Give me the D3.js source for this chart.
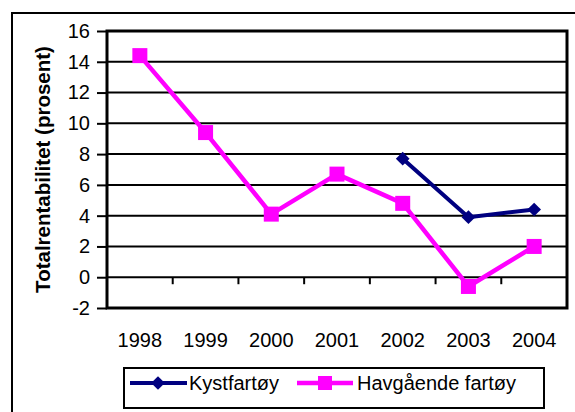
<!DOCTYPE html>
<html>
<head>
<meta charset="utf-8">
<script src="https://cdn.jsdelivr.net/npm/d3@7"></script>
<style>
  body { margin: 0; background: #fff; }
  svg { display: block; font-family: Arial, "Liberation Sans", sans-serif; }
</style>
</head>
<body>
<svg class="canvas" width="575" height="412"></svg>
<script>
// data
var years = ['1998', '1999', '2000', '2001', '2002', '2003', '2004'];
var kystValues = [null, null, null, null, 7.7, 3.9, 4.4];
var havValues = [14.4, 9.4, 4.1, 6.7, 4.8, -0.6, 2.0];
var yTicks = [-2, 0, 2, 4, 6, 8, 10, 12, 14, 16];
var seriesNames = ['Kystfartøy', 'Havgående fartøy'];

var svg = d3.select('.canvas');
var plot = {left: 107, right: 567, top: 31, bottom: 308};
var fontSize = 20;

var x = d3.scaleBand().domain(years).range([plot.left, plot.right]);
var y = d3.scaleLinear().domain([-2, 16]).range([plot.bottom, plot.top]);

// outer chart frame (only top and left visible)
svg.append('rect')
    .attr('x', 12).attr('y', 13)
    .attr('width', 600).attr('height', 420)
    .attr('fill', 'none').attr('stroke', '#000').attr('stroke-width', 2);

// gridlines
svg.append('g').selectAll('line')
    .data(yTicks)
    .enter().append('line')
    .attr('x1', plot.left).attr('x2', plot.right)
    .attr('y1', d => y(d)).attr('y2', d => y(d))
    .attr('stroke', '#000').attr('stroke-width', 2);

// plot border
svg.append('rect')
    .attr('x', plot.left).attr('y', plot.top)
    .attr('width', plot.right - plot.left).attr('height', plot.bottom - plot.top)
    .attr('fill', 'none').attr('stroke', '#000').attr('stroke-width', 3);

// y axis (plain hyphen for negatives, as in the original)
var yAxis = svg.append('g')
    .attr('transform', 'translate(' + plot.left + ',0)')
    .call(d3.axisLeft(y).tickValues(yTicks).tickFormat(d => String(d)).tickSize(10).tickPadding(7));
yAxis.select('.domain').remove();
yAxis.selectAll('.tick line').attr('stroke', '#000').attr('stroke-width', 2);
yAxis.selectAll('.tick text').attr('font-size', fontSize).attr('fill', '#000')
    .attr('font-family', 'Arial, "Liberation Sans", sans-serif');

// x axis at zero, ticks between categories
svg.append('g').selectAll('line')
    .data(years.slice(1))
    .enter().append('line')
    .attr('x1', d => x(d)).attr('x2', d => x(d))
    .attr('y1', y(0)).attr('y2', y(0) + 7)
    .attr('stroke', '#000').attr('stroke-width', 2);

svg.append('g').selectAll('text')
    .data(years)
    .enter().append('text')
    .attr('x', d => x(d) + x.bandwidth() / 2)
    .attr('y', 347)
    .attr('text-anchor', 'middle')
    .attr('font-size', fontSize)
    .text(d => d);

// axis title
svg.append('text')
    .attr('transform', 'translate(50,' + ((plot.top + plot.bottom) / 2) + ') rotate(-90)')
    .attr('text-anchor', 'middle')
    .attr('font-size', 20.5)
    .attr('font-weight', 'bold')
    .text('Totalrentabilitet (prosent)');

var cx = d => x(d) + x.bandwidth() / 2;
var line = d3.line()
    .defined(d => d.v !== null)
    .x(d => cx(d.year))
    .y(d => y(d.v));

function pairs(values) {
    return years.map((yr, i) => ({year: yr, v: values[i]}));
}

// Havgående series
var hav = pairs(havValues);
svg.append('path')
    .datum(hav)
    .attr('d', line)
    .attr('fill', 'none').attr('stroke', '#ff00ff').attr('stroke-width', 4.5)
    .attr('stroke-linejoin', 'round');
svg.append('g').selectAll('rect')
    .data(hav.filter(d => d.v !== null))
    .enter().append('rect')
    .attr('x', d => cx(d.year) - 7.5).attr('y', d => y(d.v) - 7.5)
    .attr('width', 15).attr('height', 15)
    .attr('fill', '#ff00ff');

// Kyst series
var kyst = pairs(kystValues);
var diamond = d3.symbol().type(d3.symbolDiamond2).size(120);
svg.append('path')
    .datum(kyst)
    .attr('d', line)
    .attr('fill', 'none').attr('stroke', '#000080').attr('stroke-width', 4)
    .attr('stroke-linejoin', 'round');
svg.append('g').selectAll('path')
    .data(kyst.filter(d => d.v !== null))
    .enter().append('path')
    .attr('d', diamond)
    .attr('transform', d => 'translate(' + cx(d.year) + ',' + y(d.v) + ')')
    .attr('fill', '#000080');

// legend
var legend = svg.append('g');
legend.append('rect')
    .attr('x', 124).attr('y', 368)
    .attr('width', 420).attr('height', 40)
    .attr('fill', '#fff').attr('stroke', '#000').attr('stroke-width', 2);

var ly = 383;
legend.append('line')
    .attr('x1', 130).attr('x2', 187).attr('y1', ly).attr('y2', ly)
    .attr('stroke', '#000080').attr('stroke-width', 4);
legend.append('path')
    .attr('d', diamond)
    .attr('transform', 'translate(158,' + ly + ')')
    .attr('fill', '#000080');
legend.append('text')
    .attr('x', 189).attr('y', ly + 7)
    .attr('font-size', fontSize)
    .text(seriesNames[0]);

legend.append('line')
    .attr('x1', 297).attr('x2', 353).attr('y1', ly).attr('y2', ly)
    .attr('stroke', '#ff00ff').attr('stroke-width', 4.5);
legend.append('rect')
    .attr('x', 318).attr('y', ly - 7).attr('width', 14).attr('height', 14)
    .attr('fill', '#ff00ff');
legend.append('text')
    .attr('x', 357).attr('y', ly + 7)
    .attr('font-size', fontSize)
    .text(seriesNames[1]);
</script>
</body>
</html>
